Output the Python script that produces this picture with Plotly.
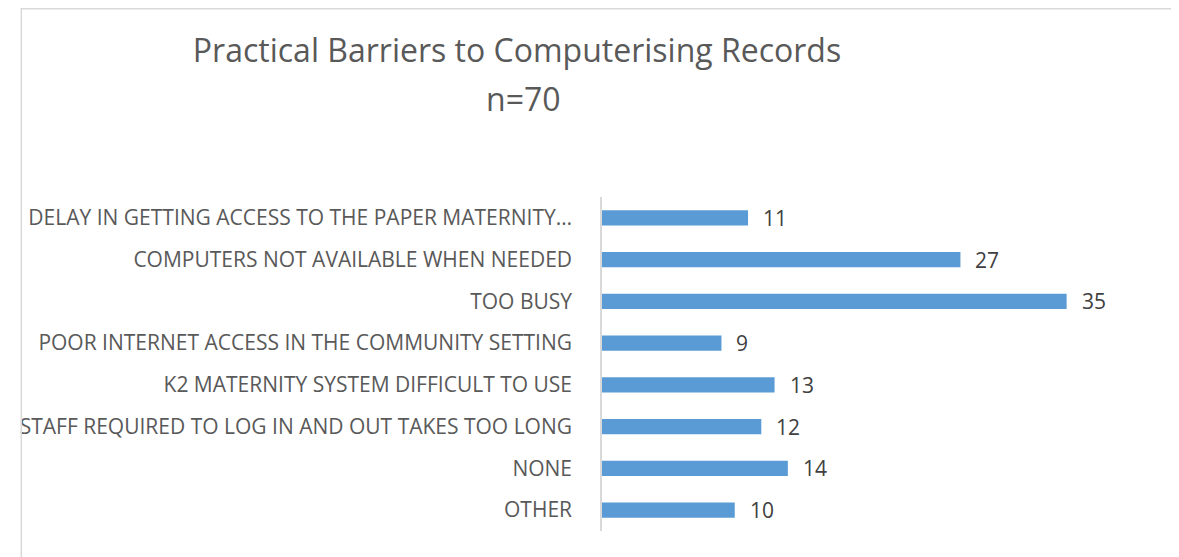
"""Practical barriers to computerising records - horizontal bar chart."""

import plotly.graph_objects as go

# Top-to-bottom order as in the chart.
barriers = [
    "DELAY IN GETTING ACCESS TO THE PAPER MATERNITY…",
    "COMPUTERS NOT AVAILABLE WHEN NEEDED",
    "TOO BUSY",
    "POOR INTERNET ACCESS IN THE COMMUNITY SETTING",
    "K2 MATERNITY SYSTEM DIFFICULT TO USE",
    "STAFF REQUIRED TO LOG IN AND OUT TAKES TOO LONG",
    "NONE",
    "OTHER",
]
counts = [11, 27, 35, 9, 13, 12, 14, 10]

_BAR = "#5b9bd5"
_TEXT = "#595959"
_FONT = "Open Sans"

W, H = 1179, 557
# page body has an 8px margin, so everything is placed 8px up/left
M = dict(l=588, r=54, t=189, b=34)

fig = go.Figure(go.Bar(
    x=counts, y=barriers, orientation="h", width=0.36,
    marker=dict(color=_BAR, line=dict(width=0)), hoverinfo="x+y"))

for b, c in zip(barriers, counts):
    fig.add_annotation(x=c, y=b, text=str(c), showarrow=False,
                       xanchor="left", xshift=13,
                       font=dict(family=_FONT, size=21, color="#404040"))

pw = W - M["l"] - M["r"]
ph = H - M["t"] - M["b"]

# second title line as its own annotation to get the line spacing right
fig.add_annotation(text="n=70", xref="paper", yref="paper",
                   x=(509 - M["l"]) / pw, y=1 + (M["t"] - 90) / ph,
                   xanchor="center", yanchor="middle", showarrow=False,
                   font=dict(family=_FONT, size=32, color=_TEXT))

# Light grey frame round the whole chart area.
fig.add_shape(type="rect", xref="paper", yref="paper",
              x0=(0.75 - M["l"]) / pw, x1=(W + 5 - M["l"]) / pw,
              y0=-(M["b"] + 5) / ph, y1=1 + (M["t"] - 0.75) / ph,
              line=dict(color="#d9d9d9", width=1.5))

fig.update_layout(
    width=W, height=H, margin=M,
    paper_bgcolor="white", plot_bgcolor="white", showlegend=False,
    title=dict(text="Practical Barriers to Computerising Records",
               x=509 / W, xanchor="center", y=1 - 43 / H, yanchor="middle",
               font=dict(family=_FONT, size=32, color=_TEXT)),
)
fig.update_xaxes(range=[0, 40], visible=False)
fig.update_yaxes(autorange="reversed", showline=True, linecolor="#d9d9d9",
                 linewidth=1.5, showgrid=False, ticks="",
                 ticklabelstandoff=24,
                 tickfont=dict(family=_FONT, size=21, color=_TEXT))

fig.write_html("out.html")
